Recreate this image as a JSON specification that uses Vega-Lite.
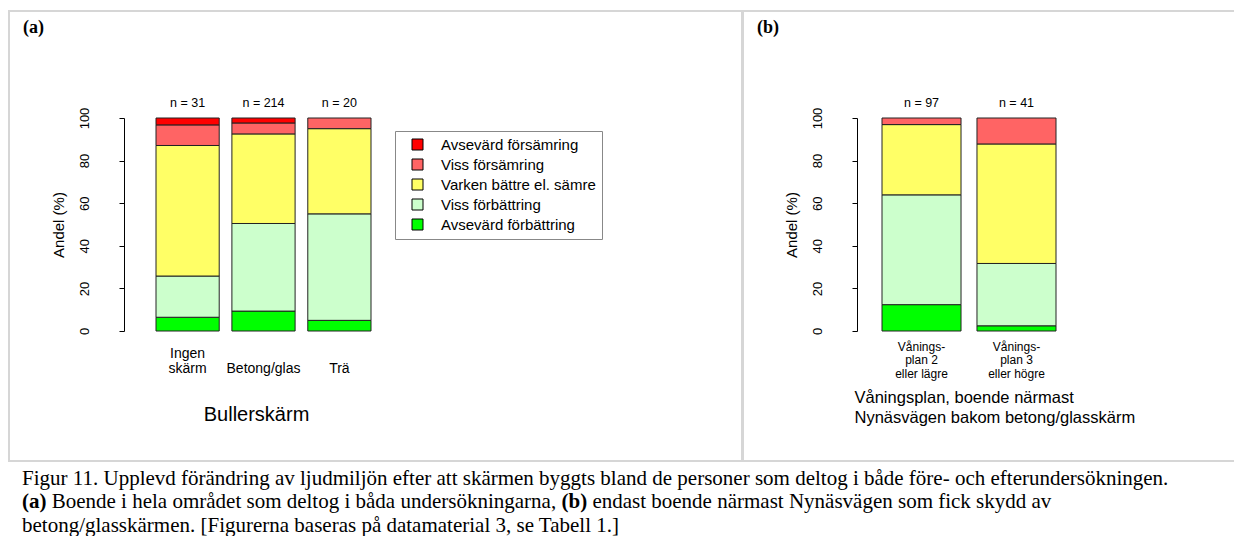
{
  "$schema": "https://vega.github.io/schema/vega-lite/v6.json",
  "padding": {"left": 8, "top": 10, "right": 0, "bottom": 0},
  "background": "white",
  "title": {"text": "betong/glasskärmen. [Figurerna baseras på datamaterial 3, se Tabell 1.]", "anchor": "start", "orient": "bottom", "frame": "bounds", "offset": 2.5, "dx": 14, "baseline": "top", "font": "Liberation Serif", "fontSize": 21, "fontWeight": "normal", "color": "black"},
  "config": {
    "view": {"stroke": "#d6d6d6", "strokeWidth": 2},
    "font": "Liberation Sans",
    "concat": {"spacing": 0}
  },
  "datasets": {
    "a": [
      {"s": "Ingen skärm", "c": "Avsevärd förbättring", "k": 1, "v": 6.45},
      {"s": "Ingen skärm", "c": "Viss förbättring", "k": 2, "v": 19.35},
      {"s": "Ingen skärm", "c": "Varken bättre el. sämre", "k": 3, "v": 61.29},
      {"s": "Ingen skärm", "c": "Viss försämring", "k": 4, "v": 9.68},
      {"s": "Ingen skärm", "c": "Avsevärd försämring", "k": 5, "v": 3.23},
      {"s": "Betong/glas", "c": "Avsevärd förbättring", "k": 1, "v": 9.35},
      {"s": "Betong/glas", "c": "Viss förbättring", "k": 2, "v": 41.12},
      {"s": "Betong/glas", "c": "Varken bättre el. sämre", "k": 3, "v": 42.06},
      {"s": "Betong/glas", "c": "Viss försämring", "k": 4, "v": 5.14},
      {"s": "Betong/glas", "c": "Avsevärd försämring", "k": 5, "v": 2.33},
      {"s": "Trä", "c": "Avsevärd förbättring", "k": 1, "v": 5},
      {"s": "Trä", "c": "Viss förbättring", "k": 2, "v": 50},
      {"s": "Trä", "c": "Varken bättre el. sämre", "k": 3, "v": 40},
      {"s": "Trä", "c": "Viss försämring", "k": 4, "v": 5}
    ],
    "na": [
      {"s": "Ingen skärm", "n": "n = 31"},
      {"s": "Betong/glas", "n": "n = 214"},
      {"s": "Trä", "n": "n = 20"}
    ],
    "b": [
      {"s": "Våningsplan 2 eller lägre", "c": "Avsevärd förbättring", "k": 1, "v": 12.37},
      {"s": "Våningsplan 2 eller lägre", "c": "Viss förbättring", "k": 2, "v": 51.55},
      {"s": "Våningsplan 2 eller lägre", "c": "Varken bättre el. sämre", "k": 3, "v": 32.99},
      {"s": "Våningsplan 2 eller lägre", "c": "Viss försämring", "k": 4, "v": 3.09},
      {"s": "Våningsplan 3 eller högre", "c": "Avsevärd förbättring", "k": 1, "v": 2.44},
      {"s": "Våningsplan 3 eller högre", "c": "Viss förbättring", "k": 2, "v": 29.27},
      {"s": "Våningsplan 3 eller högre", "c": "Varken bättre el. sämre", "k": 3, "v": 56.1},
      {"s": "Våningsplan 3 eller högre", "c": "Viss försämring", "k": 4, "v": 12.19}
    ],
    "nb": [
      {"s": "Våningsplan 2 eller lägre", "n": "n = 97"},
      {"s": "Våningsplan 3 eller högre", "n": "n = 41"}
    ]
  },
  "vconcat": [
    {
      "title": {"text": "endast boende närmast Nynäsvägen som fick skydd av", "anchor": "start", "orient": "bottom", "frame": "bounds", "offset": -21, "dx": 584.4, "baseline": "top", "font": "Liberation Serif", "fontSize": 21, "fontWeight": "normal", "color": "black"},
      "vconcat": [
        {
          "title": {"text": "(b)", "anchor": "start", "orient": "bottom", "frame": "bounds", "offset": -21, "dx": 553.5, "baseline": "top", "font": "Liberation Serif", "fontSize": 21, "fontWeight": "bold", "color": "black"},
          "vconcat": [
            {
              "title": {"text": "Boende i hela området som deltog i båda undersökningarna,", "anchor": "start", "orient": "bottom", "frame": "bounds", "offset": -21, "dx": 43.7, "baseline": "top", "font": "Liberation Serif", "fontSize": 21, "fontWeight": "normal", "color": "black"},
              "vconcat": [
                {
                  "title": {"text": "(a)", "anchor": "start", "orient": "bottom", "frame": "bounds", "offset": 2.5, "dx": 14, "baseline": "top", "font": "Liberation Serif", "fontSize": 21, "fontWeight": "bold", "color": "black"},
                  "vconcat": [
                    {
                      "title": {"text": "Figur 11. Upplevd förändring av ljudmiljön efter att skärmen byggts bland de personer som deltog i både före- och efterundersökningen.", "anchor": "start", "orient": "bottom", "frame": "bounds", "offset": 5.5, "dx": 14, "baseline": "top", "font": "Liberation Serif", "fontSize": 21, "fontWeight": "normal", "color": "black"},
                      "hconcat": [
                        {
                          "width": 733,
                          "height": 450,
                          "title": {"text": "(a)", "anchor": "start", "orient": "top", "frame": "group", "offset": -44, "dx": 14, "baseline": "bottom", "font": "Liberation Serif", "fontSize": 18, "fontWeight": "bold", "color": "black"},
                          "layer": [
                            {
                              "data": {"name": "a"},
                              "mark": {"type": "bar", "stroke": "#222222", "strokeWidth": 1},
                              "encoding": {
                                "x": {
                                  "field": "s", "type": "nominal",
                                  "sort": ["Ingen skärm", "Betong/glas", "Trä"],
                                  "scale": {"domain": ["Ingen skärm", "Betong/glas", "Trä"], "range": [147, 362], "paddingInner": 0.167, "paddingOuter": 0},
                                  "axis": {
                                    "orient": "bottom", "offset": -115, "domain": false, "ticks": false, "labelAngle": 0,
                                    "labelFontSize": 14, "labelColor": "black", "labelPadding": 0, "labelBaseline": "top", "labelLineHeight": 15,
                                    "labelExpr": "datum.label == 'Ingen skärm' ? ['Ingen', 'skärm'] : ['', datum.label]",
                                    "title": "Bullerskärm", "titleFontSize": 20, "titleFontWeight": "normal", "titleColor": "black", "titlePadding": 29, "titleX": 247, "titleAlign": "center"
                                  }
                                },
                                "y": {
                                  "field": "v", "type": "quantitative", "stack": "zero",
                                  "scale": {"domain": [0, 100], "range": [320, 107], "nice": false},
                                  "axis": {
                                    "orient": "left", "offset": -115, "values": [0, 20, 40, 60, 80, 100], "grid": false,
                                    "domainColor": "black", "domainWidth": 1, "tickColor": "black", "tickSize": 5, "tickWidth": 1,
                                    "labelAngle": 270, "labelAlign": "center", "labelBaseline": "bottom", "labelFontSize": 13, "labelColor": "black", "labelPadding": 28, "labelOverlap": false, "labelFlush": false,
                                    "title": "Andel (%)", "titleFontSize": 15, "titleFontWeight": "normal", "titleColor": "black", "titlePadding": 12
                                  }
                                },
                                "color": {
                                  "field": "c", "type": "nominal",
                                  "scale": {
                                    "domain": ["Avsevärd försämring", "Viss försämring", "Varken bättre el. sämre", "Viss förbättring", "Avsevärd förbättring"],
                                    "range": ["#ff0000", "#ff6464", "#ffff66", "#ccffcc", "#00ff00"]
                                  },
                                  "legend": {
                                    "title": null, "orient": "none", "legendX": 386, "legendY": 120, "strokeColor": "#888888", "fillColor": "white",
                                    "padding": 6, "symbolType": "square", "symbolSize": 121, "symbolStrokeColor": "black", "symbolStrokeWidth": 1,
                                    "labelFontSize": 15, "labelColor": "black", "labelOffset": 16, "rowPadding": 4, "symbolOffset": 9
                                  }
                                },
                                "order": {"field": "k", "type": "quantitative", "sort": "ascending"}
                              }
                            },
                            {
                              "data": {"name": "na"},
                              "mark": {"type": "text", "baseline": "bottom", "dy": -8, "fontSize": 12.5, "color": "black"},
                              "encoding": {
                                "x": {"field": "s", "type": "nominal", "sort": ["Ingen skärm", "Betong/glas", "Trä"]},
                                "y": {"datum": 100, "type": "quantitative"},
                                "text": {"field": "n"}
                              }
                            }
                          ]
                        },
                        {
                          "width": 493,
                          "height": 450,
                          "title": {"text": "(b)", "anchor": "start", "orient": "top", "frame": "group", "offset": -44, "dx": 14, "baseline": "bottom", "font": "Liberation Serif", "fontSize": 18, "fontWeight": "bold", "color": "black"},
                          "layer": [
                            {
                              "data": {"name": "b"},
                              "mark": {"type": "bar", "stroke": "#222222", "strokeWidth": 1},
                              "encoding": {
                                "x": {
                                  "field": "s", "type": "nominal",
                                  "sort": ["Våningsplan 2 eller lägre", "Våningsplan 3 eller högre"],
                                  "scale": {"domain": ["Våningsplan 2 eller lägre", "Våningsplan 3 eller högre"], "range": [139, 313], "paddingInner": 0.168, "paddingOuter": 0},
                                  "axis": {
                                    "orient": "bottom", "offset": -120, "domain": false, "ticks": false, "labelAngle": 0,
                                    "labelFontSize": 12, "labelColor": "black", "labelPadding": 0, "labelBaseline": "top", "labelLineHeight": 13.5,
                                    "labelExpr": "datum.label == 'Våningsplan 2 eller lägre' ? ['Vånings-', 'plan 2', 'eller lägre'] : ['Vånings-', 'plan 3', 'eller högre']",
                                    "title": ["Våningsplan, boende närmast", "Nynäsvägen bakom betong/glasskärm"],
                                    "titleFontSize": 16.5, "titleLineHeight": 20, "titleFontWeight": "normal", "titleColor": "black", "titlePadding": 10, "titleX": 111, "titleAlign": "left", "titleAnchor": "start"
                                  }
                                },
                                "y": {
                                  "field": "v", "type": "quantitative", "stack": "zero",
                                  "scale": {"domain": [0, 100], "range": [320, 107], "nice": false},
                                  "axis": {
                                    "orient": "left", "offset": -114, "values": [0, 20, 40, 60, 80, 100], "grid": false,
                                    "domainColor": "black", "domainWidth": 1, "tickColor": "black", "tickSize": 5, "tickWidth": 1,
                                    "labelAngle": 270, "labelAlign": "center", "labelBaseline": "bottom", "labelFontSize": 13, "labelColor": "black", "labelPadding": 28, "labelOverlap": false, "labelFlush": false,
                                    "title": "Andel (%)", "titleFontSize": 15, "titleFontWeight": "normal", "titleColor": "black", "titlePadding": 12
                                  }
                                },
                                "color": {
                                  "field": "c", "type": "nominal",
                                  "scale": {
                                    "domain": ["Avsevärd försämring", "Viss försämring", "Varken bättre el. sämre", "Viss förbättring", "Avsevärd förbättring"],
                                    "range": ["#ff0000", "#ff6464", "#ffff66", "#ccffcc", "#00ff00"]
                                  },
                                  "legend": null
                                },
                                "order": {"field": "k", "type": "quantitative", "sort": "ascending"}
                              }
                            },
                            {
                              "data": {"name": "nb"},
                              "mark": {"type": "text", "baseline": "bottom", "dy": -8, "fontSize": 12.5, "color": "black"},
                              "encoding": {
                                "x": {"field": "s", "type": "nominal"},
                                "y": {"datum": 100, "type": "quantitative"},
                                "text": {"field": "n"}
                              }
                            }
                          ]
                        }
                      ],
                      "spacing": -4,
                      "resolve": {"scale": {"color": "independent", "x": "independent", "y": "independent"}, "legend": {"color": "independent"}}
                    }
                  ]
                }
              ]
            }
          ]
        }
      ]
    }
  ]
}
